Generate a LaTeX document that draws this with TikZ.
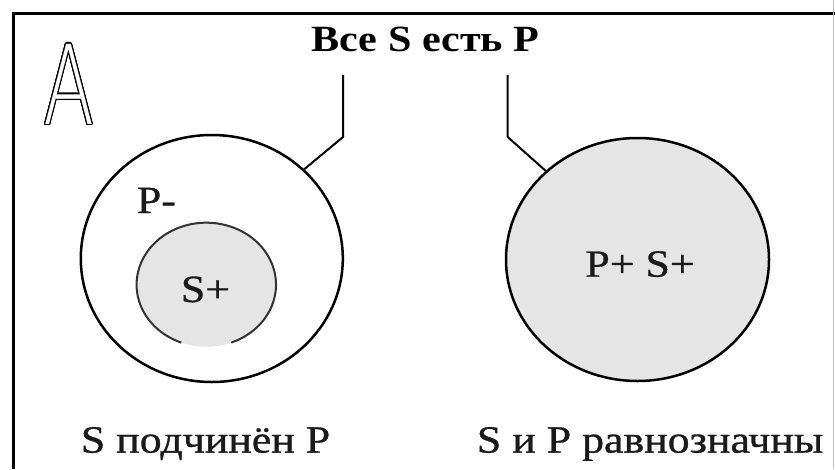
\documentclass[tikz,border=0pt]{standalone}
\usepackage{fontspec}
\setmainfont{Liberation Serif}[FakeStretch=1.14, UprightFeatures={FakeBold=0.8}]
\newfontfamily\thinsans{DejaVu Sans ExtraLight}
\usepackage{contour}
\contourlength{1.4pt}
\contournumber{20}
\usetikzlibrary{shapes.geometric}
\definecolor{discfill}{HTML}{E5E5E5}
\definecolor{ink}{HTML}{1A1A1A}
\tikzset{
  label/.style={inner sep=0pt, anchor=base west, font=\fontsize{38.5}{40}\selectfont, text=ink},
  disc/.style={ellipse, inner sep=0pt, line width=2.5pt},
  conn/.style={line width=2pt, line join=miter},
}
\begin{document}
\begin{tikzpicture}[x=1pt, y=-1pt]
  \useasboundingbox (0,0) rectangle (835,469);
  \fill[white] (0,0) rectangle (835,469);

  % frame
  \draw[line width=3.3pt] (835,13.3) -- (13.3,13.3) -- (13.3,469);
  \draw[black!25, line width=1pt] (833.5,0) -- (833.5,469);

  % hollow letter in the corner
  \node[inner sep=0pt, text=white] (letter) at (69,85)
    {\scalebox{0.68}[1]{\thinsans\fontsize{110}{110}\selectfont\contour{black}{A}}};

  % heading
  \node[inner sep=0pt, anchor=base, font=\fontsize{37}{38}\selectfont\bfseries] (title) at (425.5,51.7) {Все S есть P};

  % left diagram: S inside P
  \node[disc, draw, minimum width=262pt, minimum height=247pt] (outer) at (211.8,258.5) {};
  \node[ellipse, inner sep=0pt, fill=discfill, minimum width=139.4pt, minimum height=124pt] (inner) at (206.3,284.7) {};
  \draw[line width=2pt, black!80] (inner.center) ++(111:69.7 and 62)
    arc[start angle=111, end angle=429, x radius=69.7, y radius=62];
  \node[label] (pminus) at (136.7,213) {P-};
  \node[label, anchor=base] (splus) at (205.5,302) {S+};

  % right diagram: S equals P
  \node[disc, draw, fill=discfill, minimum width=263pt, minimum height=243pt] (whole) at (637.5,259.5) {};
  \node[label, anchor=base] (both) at (640,276.7) {P+ S+};

  % connectors from the heading
  \coordinate (lt) at (343,75);
  \coordinate (rt) at (507.7,75);
  \draw[conn] (lt) -- ++(0,62) -- (outer.44);
  \draw[conn] (rt) -- ++(0,62) -- (whole.136);

  % captions
  \node[label] (capl) at (80.7,452.6) {S подчинён P};
  \node[label] (capr) at (476.7,452.6) {S и P равнозначны};
\end{tikzpicture}
\end{document}
